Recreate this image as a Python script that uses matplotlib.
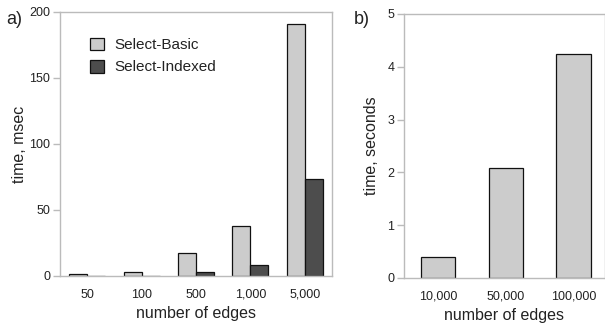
import matplotlib
matplotlib.use("Agg")
import matplotlib.pyplot as plt
import numpy as np

plt.rcParams['font.family'] = ['Liberation Sans', 'DejaVu Sans']

# Panel a data
cats_a = ["50", "100", "500", "1,000", "5,000"]
basic_ms = [1.3, 3.3, 17.2, 38.1, 191]
indexed_ms = [0.0, 0.0, 3.3, 8.1, 73.2]

# Panel b data
cats_b = ["10,000", "50,000", "100,000"]
basic_s = [0.39, 2.08, 4.24]

light = "#cccccc"
dark = "#4d4d4d"
edge = "#111111"
spine_c = "#bbbbbb"
txt = "#222222"

fig = plt.figure(figsize=(6.05, 3.23), dpi=100)
W, H = 605, 323

def style(ax):
    for s in ax.spines.values():
        s.set_color(spine_c)
        s.set_linewidth(1.0)
    ax.tick_params(axis='y', length=5, width=1, color=spine_c, labelsize=9, labelcolor=txt, pad=2)
    ax.tick_params(axis='x', length=0, labelsize=9, labelcolor=txt, pad=9)

# Left axes
axa = fig.add_axes([60 / W, 1 - 276 / H, (332 - 60) / W, (276 - 12) / H])
x = np.arange(len(cats_a))
w = 0.33
axa.bar(x - w / 2, basic_ms, w, color=light, edgecolor=edge, linewidth=0.9, label="Select-Basic")
axa.bar(x + w / 2, indexed_ms, w, color=dark, edgecolor=edge, linewidth=0.9, label="Select-Indexed")
axa.set_xlim(-0.5, 4.5)
axa.set_ylim(0, 200)
axa.set_yticks([0, 50, 100, 150, 200])
axa.set_xticks(x)
axa.set_xticklabels(cats_a)
style(axa)
axa.set_ylabel("time, msec", fontsize=11.5, color=txt, labelpad=2)
axa.set_xlabel("number of edges", fontsize=11.5, color=txt, labelpad=4)
leg = axa.legend(loc="upper left", bbox_to_anchor=(0.06, 0.955), frameon=False, fontsize=11,
                 handlelength=0.9, handleheight=0.9, handletextpad=0.7, labelspacing=0.5)
for t in leg.get_texts():
    t.set_color(txt)
fig.text(6 / W, 1 - 24 / H, "a)", fontsize=13, color=txt)

# Right axes
axb = fig.add_axes([404 / W, 1 - 278 / H, (W - 404) / W, (278 - 14) / H])
xb = np.arange(len(cats_b))
axb.bar(xb, basic_s, 0.51, color=light, edgecolor=edge, linewidth=0.9)
axb.set_xlim(-0.5, 2.46)
axb.set_ylim(0, 5)
axb.set_yticks([0, 1, 2, 3, 4, 5])
axb.set_xticks(xb)
axb.set_xticklabels(cats_b)
style(axb)
axb.set_ylabel("time, seconds", fontsize=11.5, color=txt, labelpad=6)
axb.set_xlabel("number of edges", fontsize=11.5, color=txt, labelpad=4)
fig.text(354 / W, 1 - 24 / H, "b)", fontsize=13, color=txt)

fig.savefig("out.png", dpi=100)
